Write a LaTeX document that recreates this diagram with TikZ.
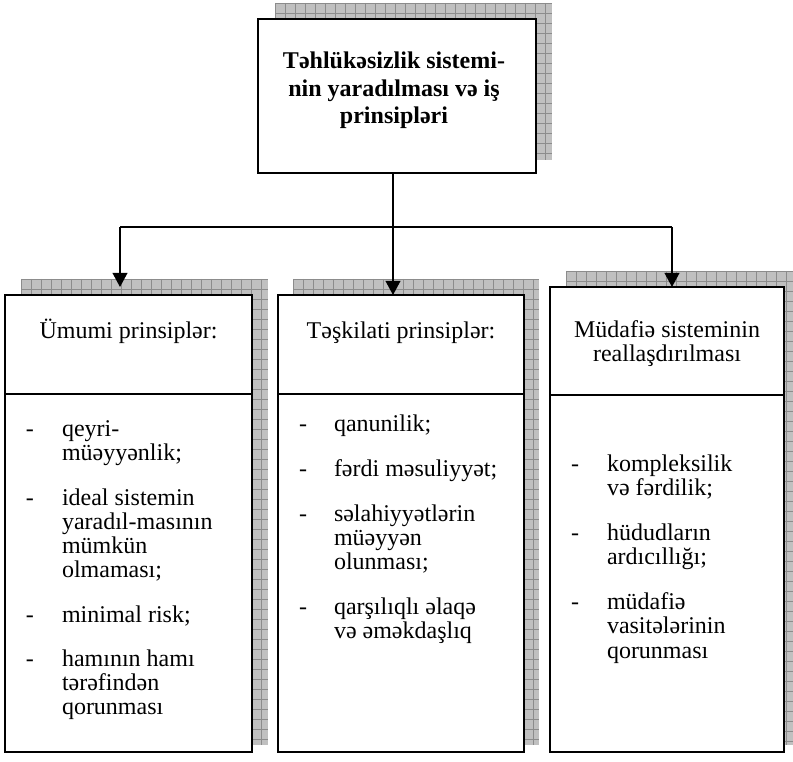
\documentclass[tikz,border=0pt]{standalone}
\usepackage{fontspec}
\setmainfont{Liberation Serif}
\usetikzlibrary{arrows.meta}
\definecolor{shadowfill}{RGB}{192,192,192}
\definecolor{gridgray}{RGB}{140,140,140}
\newcommand\shadowgrid[4]{%
  \fill[shadowfill] (#1,#2) rectangle (#3,#4);
  \begin{scope}
    \clip (#1,#2) rectangle (#3,#4);
    \pgfmathsetmacro\gxa{#1+10}
    \foreach \gx in {#1,\gxa,...,#3} \draw[gridline] (\gx,#2) -- (\gx,#4);
    \pgfmathsetmacro\gya{#2+10}
    \foreach \gy in {#2,\gya,...,#4} \draw[gridline] (#1,\gy) -- (#3,\gy);
  \end{scope}}
\begin{document}
\begin{tikzpicture}[x=0.75pt,y=-0.75pt,
  gridline/.style={draw=gridgray,line width=0.5pt},
  box/.style={draw,line width=1.5pt,fill=white,inner sep=0pt,outer sep=0pt,rectangle},
  boxline/.style={line width=1.5pt},
  conn/.style={line width=1.2pt},
  arr/.style={conn,-{Triangle[length=10.5pt,width=11pt]}},
  item/.style={inner sep=0pt,outer sep=0pt,anchor=base west,font=\fontsize{18}{18}\selectfont},
  hdr/.style={inner sep=0pt,outer sep=0pt,anchor=base,font=\fontsize{18}{18}\selectfont},
  ttl/.style={inner sep=0pt,outer sep=0pt,anchor=base,font=\fontsize{18}{20.6}\selectfont\bfseries}]
\useasboundingbox (0,0) rectangle (793,762);
\fill[white] (0,0) rectangle (793,762);
\begin{scope}
\clip (0,0) rectangle (793,762);
% shadows
\shadowgrid{275}{3}{552}{160}
\shadowgrid{21}{279}{268}{745}
\shadowgrid{293}{279}{539}{745}
\shadowgrid{566}{271}{800}{745}
\end{scope}
% boxes
\node[box,minimum width=278*0.75pt,minimum height=154*0.75pt] (top) at (397,96) {};
\node[box,minimum width=247*0.75pt,minimum height=457*0.75pt] (left) at (128.5,523.5) {};
\node[box,minimum width=246*0.75pt,minimum height=457*0.75pt] (mid) at (401,523.5) {};
\node[box,minimum width=234*0.75pt,minimum height=465*0.75pt] (right) at (667,519.5) {};
% header separators
\coordinate (sL) at (0,394);
\coordinate (sR) at (0,395);
\draw[boxline] (left.west |- sL) -- (left.east |- sL);
\draw[boxline] (mid.west |- sL) -- (mid.east |- sL);
\draw[boxline] (right.west |- sR) -- (right.east |- sR);
% connectors
\coordinate (j) at (393,227);
\coordinate (hl) at (120,227);
\coordinate (hr) at (672,227);
\coordinate (aL) at (120,287);
\coordinate (aM) at (393,295);
\coordinate (aR) at (672,287);
\draw[conn] (top.south -| j) -- (j);
\draw[conn] (hl) -- (hr);
\draw[arr] (hl) -- (aL);
\draw[arr] (j) -- (aM);
\draw[arr] (hr) -- (aR);
% title
\node[ttl] (t) at (394,69) {\parbox[t]{300\dimexpr0.75pt}{\centering Təhlükəsizlik sistemi-\\nin yaradılması və iş\\prinsipləri}};
% headers
\node[hdr] (lh) at (128.5,339) {Ümumi prinsiplər:};
\node[hdr] (mh) at (401,339) {Təşkilati prinsiplər:};
\node[hdr] (rh) at (667,338) {\parbox[t]{230\dimexpr0.75pt}{\centering Müdafiə sisteminin\\reallaşdırılması}};
% left list
\node[item] (l1d) at (26,437) {-};
\node[item] (l1) at (62,437) {\parbox[t]{180\dimexpr0.75pt}{qeyri-\\müəyyənlik;}};
\node[item] (l2d) at (26,506) {-};
\node[item] (l2) at (62,506) {\parbox[t]{180\dimexpr0.75pt}{ideal sistemin\\yaradıl-masının\\mümkün\\olmaması;}};
\node[item] (l3d) at (26,623) {-};
\node[item] (l3) at (62,623) {minimal risk;};
\node[item] (l4d) at (26,667) {-};
\node[item] (l4) at (62,667) {\parbox[t]{180\dimexpr0.75pt}{hamının hamı\\tərəfindən\\qorunması}};
% middle list
\node[item] (m1d) at (299,432) {-};
\node[item] (m1) at (334,432) {qanunilik;};
\node[item] (m2d) at (299,477) {-};
\node[item] (m2) at (334,477) {fərdi məsuliyyət;};
\node[item] (m3d) at (299,522) {-};
\node[item] (m3) at (334,522) {\parbox[t]{180\dimexpr0.75pt}{səlahiyyətlərin\\müəyyən\\olunması;}};
\node[item] (m4d) at (299,615) {-};
\node[item] (m4) at (334,615) {\parbox[t]{180\dimexpr0.75pt}{qarşılıqlı əlaqə\\və əməkdaşlıq}};
% right list
\node[item] (r1d) at (571,472) {-};
\node[item] (r1) at (607,472) {\parbox[t]{170\dimexpr0.75pt}{kompleksilik\\və fərdilik;}};
\node[item] (r2d) at (571,541) {-};
\node[item] (r2) at (607,541) {\parbox[t]{170\dimexpr0.75pt}{hüdudların\\ardıcıllığı;}};
\node[item] (r3d) at (571,610) {-};
\node[item] (r3) at (607,610) {\parbox[t]{170\dimexpr0.75pt}{müdafiə\\vasitələrinin\\qorunması}};
\end{tikzpicture}
\end{document}
